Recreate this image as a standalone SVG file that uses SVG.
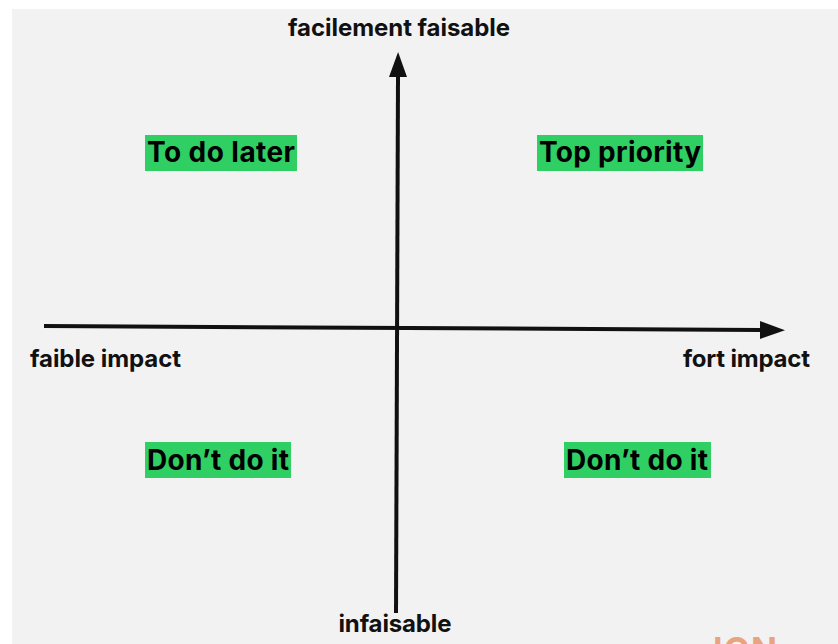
<svg xmlns="http://www.w3.org/2000/svg" width="838" height="644" viewBox="0 0 838 644">
<defs>
<style>
.t{font-family:Inter,"Liberation Sans",sans-serif;font-weight:700;fill:#111}
.ax{font-size:24px}
.q{font-size:28px;fill:#000}
.box{fill:#2fcf63}
.axis{stroke:#111;stroke-width:4;fill:none}
</style>
<marker id="ah" viewBox="0 0 10 10" preserveAspectRatio="none" refX="0" refY="5" markerWidth="6.25" markerHeight="4.5" markerUnits="strokeWidth" orient="auto">
<path d="M0,0 L10,5 L0,10 z" fill="#111"/>
</marker>
</defs>
<rect x="0" y="0" width="838" height="644" fill="#ffffff"/>
<rect x="12" y="9" width="826" height="635" fill="#f2f2f2"/>
<g id="connectors">
<line class="axis" x1="396" y1="613" x2="398" y2="77" marker-end="url(#ah)"/>
<line class="axis" x1="44" y1="326" x2="760" y2="330" marker-end="url(#ah)"/>
</g>
<g id="label-top"><text class="t ax" x="399" y="36" text-anchor="middle" textLength="222">facilement faisable</text></g>
<g id="label-left"><text class="t ax" x="30" y="367" textLength="151">faible impact</text></g>
<g id="label-right"><text class="t ax" x="683" y="367" textLength="127">fort impact</text></g>
<g id="label-bottom"><text class="t ax" x="395" y="632" text-anchor="middle" textLength="113">infaisable</text></g>
<g id="q-later"><rect class="box" x="145" y="135" width="152" height="36"/><text class="t q" x="221" y="162" text-anchor="middle" textLength="148">To do later</text></g>
<g id="q-top"><rect class="box" x="537" y="135" width="166" height="36"/><text class="t q" x="620" y="162" text-anchor="middle" textLength="162">Top priority</text></g>
<g id="q-dont1"><rect class="box" x="145" y="442" width="146" height="36"/><text class="t q" x="218" y="470" text-anchor="middle" textLength="142">Don’t do it</text></g>
<g id="q-dont2"><rect class="box" x="564" y="442" width="147" height="36"/><text class="t q" x="637" y="470" text-anchor="middle" textLength="142">Don’t do it</text></g>
<text x="713" y="662" font-family="Inter,'Liberation Sans',sans-serif" font-weight="700" font-size="34" fill="#e9a47f" textLength="64">ION</text>
</svg>
